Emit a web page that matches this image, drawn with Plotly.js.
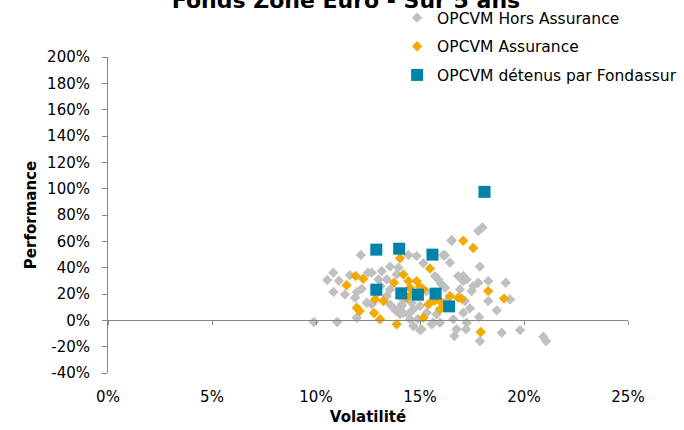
<!DOCTYPE html>
<html>
<head>
<meta charset="utf-8">
<script src="https://cdn.plot.ly/plotly-3.0.1.min.js"></script>
<style>html,body{margin:0;padding:0;background:#fff;}#chart{width:684px;height:430px;}</style>
</head>
<body>
<div id="chart"></div>
<script>
// Series names
const seriesNames = ["OPCVM Hors Assurance", "OPCVM Assurance", "OPCVM détenus par Fondassur"];

// OPCVM Hors Assurance (volatility %, performance %)
const volHors = [12.16, 10.83, 10.54, 11.63, 12.5, 10.84, 11.39, 11.96, 11.88, 12.44, 12.68, 13.56, 14.12, 11.96, 9.9, 11.02, 14.04, 14.2, 12.2, 13.1,
  13.16, 13.56, 13.96, 14.84, 14.44, 15.16, 16.2, 16.44, 16.52, 16.84, 17.24, 13.4, 13.88, 15.88, 16.2, 15.72, 13.56, 13.4, 14.12, 14.6,
  15.0, 14.2, 14.68, 15.32, 15.8, 15.64, 14.68, 15.08, 16.6, 16.76, 17.08, 17.24, 16.28, 16.92, 17.16, 12.68, 13.0, 14.44, 14.52, 15.48,
  15.96, 17.8, 18.0, 17.88, 17.08, 17.08, 17.8, 18.28, 17.56, 17.48, 19.12, 19.33, 18.28, 18.69, 17.4, 17.84, 17.21, 17.88, 18.93, 19.81,
  20.93, 21.06, 16.65, 15.0, 15.56, 16.52, 16.12, 11.1, 12.9, 14.9, 15.3, 16.0, 13.8, 14.9];
const perfHors = [49.6, 36.2, 30.6, 34.2, 36.2, 21.5, 19.7, 21.5, 17.2, 13.4, 12.1, 12.1, 10.9, 2.0, -1.3, -1.3, 4.6, 15.9, 24.0, 26.0,
  37.4, 40.8, 40.0, 48.8, 49.6, 43.3, 49.4, 43.8, 60.2, 33.6, 31.1, 31.1, 34.9, 31.1, 24.8, 33.6, 23.5, 18.5, 12.1, 13.4,
  10.9, 5.8, 8.4, 5.8, 4.6, -1.8, -4.3, -6.8, 0.8, -6.8, 5.8, -1.8, 14.7, 23.5, 14.7, 36.2, 31.1, 4.6, 0.8, 13.4,
  -1.8, 67.8, 70.5, 40.8, 33.6, 29.8, 28.6, 29.8, 26.0, 22.2, 28.6, 15.9, 14.7, 7.6, 9.1, 2.5, -6.8, -15.7, -9.4, -7.4,
  -12.4, -15.7, -11.9, -7.4, -3.0, 61.0, 49.4, 30.0, 20.0, 18.0, 22.0, 28.0, 8.0, 1.0];

// OPCVM Assurance (volatility %, performance %)
const volAss = [11.9, 12.27, 11.47, 11.96, 12.1, 12.79, 12.84, 13.24, 13.08, 13.88, 14.04, 14.2, 13.75, 14.44, 14.84, 14.52, 15.0, 15.16,
  14.36, 15.48, 15.16, 15.4, 15.96, 16.04, 16.44, 16.84, 17.08, 17.56, 18.28, 19.04, 17.92, 17.0, 14.6, 15.7];
const perfAss = [33.7, 31.6, 26.6, 9.6, 7.1, 5.5, 15.9, 14.7, 0.8, -3.0, 47.2, 34.9, 28.6, 29.8, 29.8, 24.8, 25.6, 23.5,
  17.2, 39.3, 2.0, 12.1, 8.4, 13.4, 18.5, 17.2, 60.5, 54.9, 22.2, 16.5, -8.9, 16.5, 20.0, 15.0];

// OPCVM détenus par Fondassur (volatility %, performance %)
const volFond = [12.9, 14.0, 12.9, 14.1, 14.9, 15.6, 15.75, 16.4, 18.1];
const perfFond = [53.7, 54.4, 23.3, 20.5, 19.5, 49.9, 20.3, 10.6, 97.6];

// Axis ticks
const xTicks = [0, 5, 10, 15, 20, 25];
const yTicks = [-40, -20, 0, 20, 40, 60, 80, 100, 120, 140, 160, 180, 200];
const xTickText = xTicks.map(v => v + "%");
const yTickText = yTicks.map(v => v + "%");

const axisGray = "#868686";
const baseFont = "DejaVu Sans, Arial, sans-serif";

const traces = [
  {
    type: "scatter", mode: "markers", name: seriesNames[0], legendgroup: "g1",
    x: volHors, y: perfHors,
    marker: {symbol: "diamond", size: 8, color: "#C0C0C0", line: {width: 0}}
  },
  {
    type: "scatter", mode: "markers", name: seriesNames[1], legendgroup: "g2",
    x: volAss, y: perfAss,
    marker: {symbol: "diamond", size: 8, color: "#F2A900", line: {width: 0}}
  },
  {
    type: "scatter", mode: "markers", name: seriesNames[2], legendgroup: "g3",
    x: volFond, y: perfFond, xaxis: "x2",
    marker: {symbol: "square", size: 12, color: "#0083A9", line: {width: 0}}
  }
];

const layout = {
  width: 684, height: 430,
  paper_bgcolor: "#fff", plot_bgcolor: "rgba(0,0,0,0)",
  margin: {l: 108, r: 56, t: 57, b: 57, pad: 0, autoexpand: false},
  font: {family: baseFont, color: "#000", size: 15},
  title: {
    text: "<b>Fonds Zone Euro - Sur 5 ans</b>",
    font: {family: baseFont, size: 22, color: "#000"},
    x: 346 / 684, xanchor: "center", xref: "container",
    y: 1 - 8 / 430, yanchor: "bottom", yref: "container",
    automargin: false
  },
  showlegend: true,
  legend: {
    x: 0.556, xanchor: "left", y: 1.177, yanchor: "top",
    bgcolor: "rgba(0,0,0,0)", borderwidth: 0,
    font: {family: baseFont, size: 15.5, color: "#000"},
    tracegroupgap: 5.5, itemwidth: 30
  },
  xaxis: {
    range: [0, 25], tickmode: "array", tickvals: xTicks, ticktext: xTickText,
    showline: false, showgrid: false, zeroline: false, ticks: "",
    ticklabelstandoff: 13, automargin: false,
    tickfont: {family: baseFont, size: 15, color: "#000"},
    title: {text: "<b>Volatilité</b>", font: {family: baseFont, size: 15, color: "#000"}, standoff: 6}
  },
  xaxis2: {
    range: [0, 25], tickmode: "array", tickvals: xTicks, overlaying: "x", anchor: "free", position: 40 / 240,
    showline: true, linecolor: axisGray, linewidth: 1,
    ticks: "outside", ticklen: 4, tickcolor: axisGray, tickwidth: 1,
    showticklabels: false, showgrid: false, zeroline: false, automargin: false
  },
  yaxis: {
    range: [-40, 200], tickmode: "array", tickvals: yTicks, ticktext: yTickText,
    showline: true, linecolor: axisGray, linewidth: 1,
    ticks: "outside", ticklen: 5, tickcolor: axisGray, tickwidth: 1,
    ticklabelstandoff: 9, automargin: false,
    showgrid: false, zeroline: false,
    tickfont: {family: baseFont, size: 15, color: "#000"},
    title: {text: "<b>Performance</b>", font: {family: baseFont, size: 15, color: "#000"}, standoff: 6}
  }
};

Plotly.newPlot("chart", traces, layout, {staticPlot: true, displayModeBar: false});
</script>
</body>
</html>
